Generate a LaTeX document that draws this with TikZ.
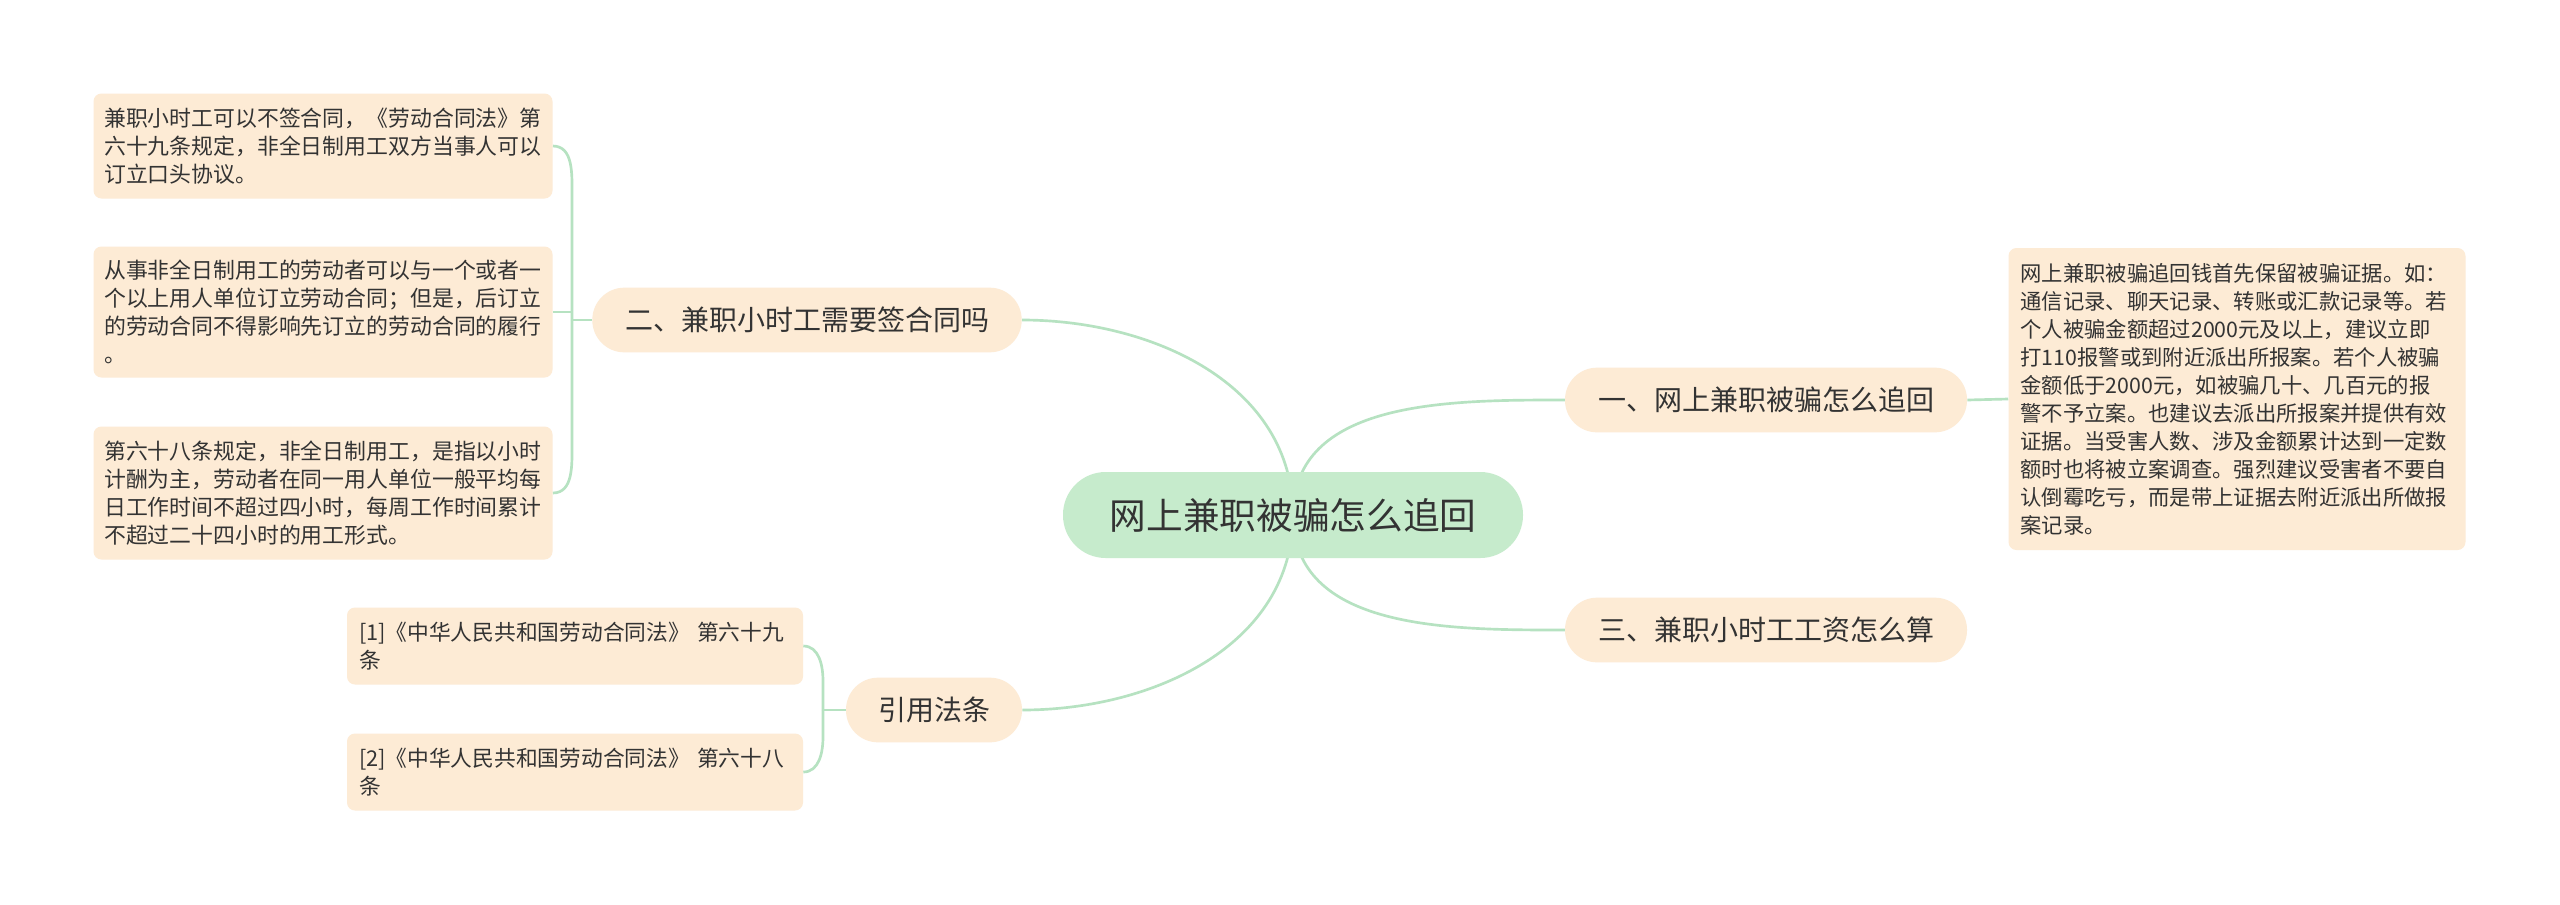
\documentclass[tikz,border=0pt]{standalone}
\usepackage{fontspec}
\setmainfont{Noto Sans CJK SC}
\usetikzlibrary{positioning,calc,backgrounds}
\definecolor{leaffill}{HTML}{FDEBD5}
\definecolor{rootfill}{HTML}{C6EBCC}
\definecolor{linkcol}{HTML}{B6E2C1}
\definecolor{txt}{HTML}{333333}

\begin{document}
\begin{tikzpicture}[x=0.75pt,y=-0.75pt,
	leaf/.style={fill=leaffill, rounded corners=6pt, text=txt, align=left, inner xsep=9pt, font=\fontsize{16}{21}\selectfont},
	branch/.style={fill=leaffill, rounded corners=24pt, text=txt, minimum height=48.5pt, font=\fontsize{21}{25}\selectfont},
	link/.style={draw=linkcol, line width=2pt}]
	\useasboundingbox (0,0) rectangle (2560,904);
	\node[fill=rootfill, rounded corners=32pt, text=txt, minimum width=345pt, minimum height=64.5pt, font=\fontsize{27.5}{32}\selectfont] (root) at (1293,515) {网上兼职被骗怎么追回};
	\node[branch, minimum width=301.5pt] (b1) at (1766,400) {一、网上兼职被骗怎么追回};
	\node[branch, minimum width=322pt] (b2) at (807,320) {二、兼职小时工需要签合同吗};
	\node[branch, minimum width=301.5pt] (b3) at (1766,630) {三、兼职小时工工资怎么算};
	\node[branch, minimum width=132pt] (b4) at (934,710) {引用法条};
	\node[leaf, text width=324.75pt, minimum height=226.5pt] (r1) at (2237,399) {网上兼职被骗追回钱首先保留被骗证据。如：\\通信记录、聊天记录、转账或汇款记录等。若\\个人被骗金额超过2000元及以上，建议立即\\打110报警或到附近派出所报案。若个人被骗\\金额低于2000元，如被骗几十、几百元的报\\警不予立案。也建议去派出所报案并提供有效\\证据。当受害人数、涉及金额累计达到一定数\\额时也将被立案调查。强烈建议受害者不要自\\认倒霉吃亏，而是带上证据去附近派出所做报\\案记录。};
	\node[leaf, inner xsep=8pt, text width=328.25pt, minimum height=78.75pt, font=\fontsize{16.4}{21}\selectfont] (l1) at (323,146) {兼职小时工可以不签合同，《劳动合同法》第\\六十九条规定，非全日制用工双方当事人可以\\订立口头协议。};
	\node[leaf, inner xsep=8pt, text width=328.25pt, minimum height=98.25pt, font=\fontsize{16.4}{21}\selectfont] (l2) at (323,312) {从事非全日制用工的劳动者可以与一个或者一\\个以上用人单位订立劳动合同；但是，后订立\\的劳动合同不得影响先订立的劳动合同的履行\\。};
	\node[leaf, inner xsep=8pt, text width=328.25pt, minimum height=99.75pt, font=\fontsize{16.4}{21}\selectfont] (l3) at (323,493) {第六十八条规定，非全日制用工，是指以小时\\计酬为主，劳动者在同一用人单位一般平均每\\日工作时间不超过四小时，每周工作时间累计\\不超过二十四小时的用工形式。};
	\node[leaf, text width=324pt, minimum height=57.75pt, font=\fontsize{16.3}{21}\selectfont] (f1) at (575,646) {[1]《中华人民共和国劳动合同法》 第六十九\\条};
	\node[leaf, text width=324pt, minimum height=57.75pt, font=\fontsize{16.3}{21}\selectfont] (f2) at (575,772) {[2]《中华人民共和国劳动合同法》 第六十八\\条};
	\coordinate (j2) at (572,320);
	\coordinate (j4) at (823,710);
	\begin{pgfonlayer}{background}
		\fill[white] (0,0) rectangle (2560,904);
		\foreach \n/\o/\i/\s in {b1/90/180/west, b2/90/0/east, b3/-90/180/west, b4/-90/0/east}
			\draw[link] (root.center) to[out=\o,in=\i] (\n.\s);
		\draw[link] (b1.east) -- (r1.west);
		\draw[link] (b2.west) -- (j2);
		\draw[link] (l2.east) -- (l2.east -| j2);
		\draw[link] (j2) -- ($(j2 |- l1.east)+(0,50)$) to[out=90,in=0] (l1.east);
		\draw[link] (j2) -- ($(j2 |- l3.east)+(0,-50)$) to[out=-90,in=0] (l3.east);
		\draw[link] (b4.west) -- (j4);
		\draw[link] (j4) -- ($(j4 |- f1.east)+(0,35)$) to[out=90,in=0] (f1.east);
		\draw[link] (j4) -- ($(j4 |- f2.east)+(0,-35)$) to[out=-90,in=0] (f2.east);
	\end{pgfonlayer}
\end{tikzpicture}
\end{document}
